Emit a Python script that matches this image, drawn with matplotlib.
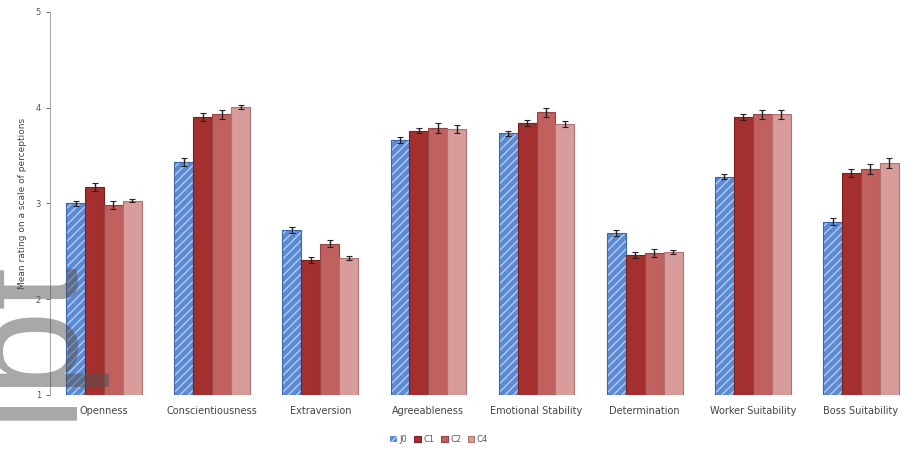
import numpy as np
import matplotlib
matplotlib.use("Agg")
import matplotlib.pyplot as plt

traits = ["Openness", "Conscientiousness", "Extraversion", "Agreeableness",
          "Emotional Stability", "Determination", "Worker Suitability", "Boss Suitability"]
groups = ["J0", "C1", "C2", "C4"]

j0 = [3.00, 3.43, 2.72, 3.66, 3.73, 2.69, 3.28, 2.81]
c1 = [3.17, 3.90, 2.41, 3.76, 3.84, 2.46, 3.90, 3.32]
c2 = [2.98, 3.93, 2.58, 3.79, 3.95, 2.48, 3.93, 3.36]
c4 = [3.03, 4.01, 2.43, 3.78, 3.83, 2.49, 3.93, 3.42]

j0_err = [0.03, 0.04, 0.03, 0.03, 0.03, 0.03, 0.03, 0.04]
c1_err = [0.04, 0.04, 0.03, 0.03, 0.03, 0.03, 0.03, 0.04]
c2_err = [0.04, 0.05, 0.04, 0.05, 0.05, 0.04, 0.05, 0.05]
c4_err = [0.02, 0.02, 0.02, 0.04, 0.03, 0.02, 0.05, 0.05]

fill = ["#5b8ad2", "#a3302f", "#c0605f", "#d89c9b"]
edge = ["#3d66a8", "#7a1f1f", "#944444", "#b07373"]

fig = plt.figure(figsize=(9.15, 4.55), dpi=100)
ax = fig.add_axes([0.0546, 0.132, 0.9454, 0.842])

x = np.arange(len(traits))
w = 0.175
series = [j0, c1, c2, c4]
errs = [j0_err, c1_err, c2_err, c4_err]
for i, (vals, err) in enumerate(zip(series, errs)):
    pos = x + (i - 1.5) * w
    heights = np.array(vals) - 1
    if i == 0:
        # hatched blue bars, outline drawn separately so the hatch stays light
        ax.bar(pos, heights, w, bottom=1, color=fill[i], edgecolor="#b3cbf0",
               hatch="////", linewidth=0, label=groups[i])
        ax.bar(pos, heights, w, bottom=1, facecolor="none", edgecolor=edge[i],
               linewidth=0.8)
    else:
        ax.bar(pos, heights, w, bottom=1, color=fill[i], edgecolor=edge[i],
               linewidth=0.8, label=groups[i])
    ax.errorbar(pos, vals, yerr=err, fmt="none", ecolor="#222222",
                elinewidth=1.0, capsize=2, capthick=0.8)

ax.set_xlim(-0.5, len(traits) - 0.5)
ax.set_ylim(1, 5)
ax.set_yticks([1, 2, 3, 4, 5])
ax.set_xticks(x)
ax.set_xticklabels(traits, fontsize=7, color="#444444")
ax.tick_params(axis="y", labelsize=6, colors="#555555", length=3, width=0.6)
ax.tick_params(axis="x", length=0, pad=8)
for s in ["top", "right", "bottom"]:
    ax.spines[s].set_visible(False)
ax.spines["left"].set_color("#aaaaaa")
ax.spines["left"].set_linewidth(0.8)
ax.set_ylabel("Mean rating on a scale of perceptions", fontsize=6.5,
              color="#444444", labelpad=6)

ax.legend(loc="upper center", bbox_to_anchor=(0.45, -0.085), ncol=4,
          frameon=False, fontsize=6, handlelength=0.8, handleheight=0.8,
          handletextpad=0.3, columnspacing=0.8, labelcolor="#555555")

# watermark running up the left edge
fig.text(0.0743, 0.077, "ipt", rotation=90, fontsize=112, color="#515151",
         alpha=0.5, family="Liberation Sans", ha="left", va="baseline",
         rotation_mode="anchor")

fig.savefig("out.png", dpi=100)
